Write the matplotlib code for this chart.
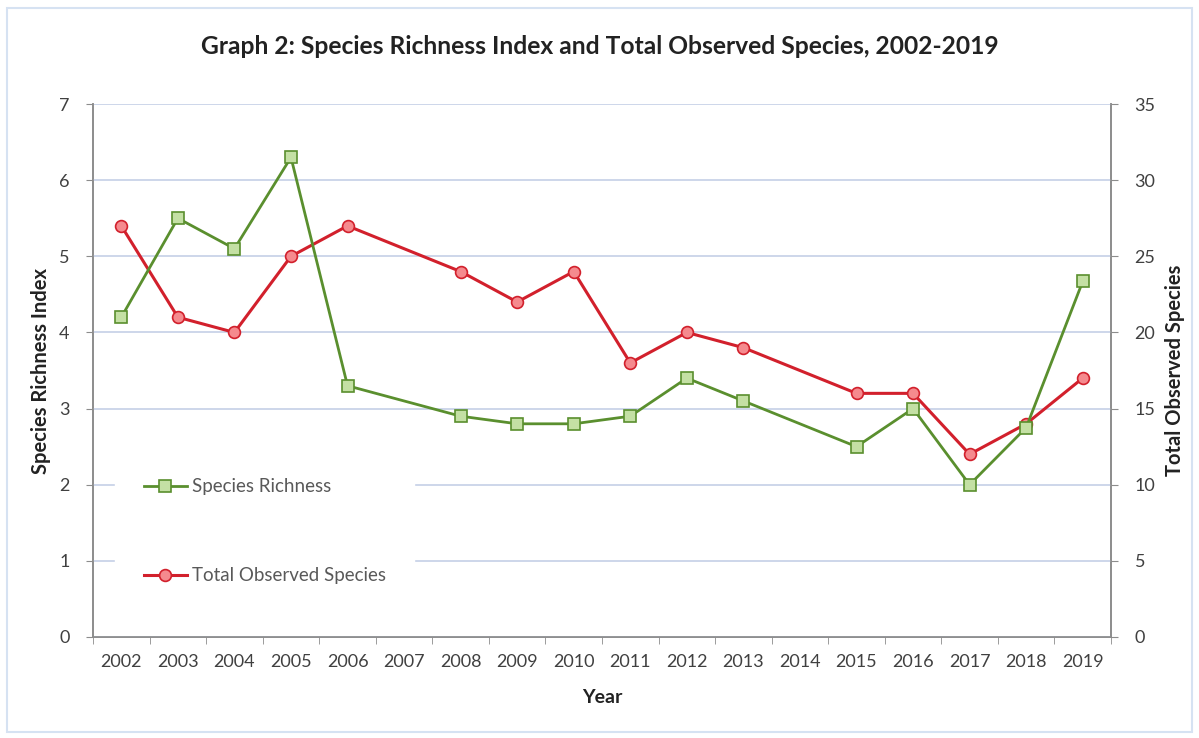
import numpy as np
import matplotlib
matplotlib.use("Agg")
import matplotlib.pyplot as plt
from matplotlib.patches import Rectangle

plt.rcParams['font.family'] = ['Lato', 'DejaVu Sans']

# data (None = no survey that year)
years = ['2002', '2003', '2004', '2005', '2006', '2007', '2008', '2009', '2010',
         '2011', '2012', '2013', '2014', '2015', '2016', '2017', '2018', '2019']
richness = [4.2, 5.5, 5.1, 6.3, 3.3, None, 2.9, 2.8, 2.8,
            2.9, 3.4, 3.1, None, 2.5, 3.0, 2.0, 2.75, 4.67]
total_species = [27, 21, 20, 25, 27, None, 24, 22, 24,
                 18, 20, 19, None, 16, 16, 12, 14, 17]

green = '#5a8f2e'
green_face = '#c4e0a4'
red = '#d2202c'
red_face = '#f58a8e'
grid_col = '#cdd6ea'
spine_col = '#8c8c8c'
txt_col = '#404040'

fig = plt.figure(figsize=(11.99, 7.38), dpi=100)
ax = fig.add_axes([0.0776, 0.1369, 0.849, 0.7221])
ax2 = ax.twinx()

# light blue chart frame
fig.patches.append(Rectangle((0.006, 0.008), 0.988, 0.981, transform=fig.transFigure,
                             fill=False, edgecolor='#d6e2f2', linewidth=1.5))

x = np.arange(len(years))

# skip missing years so the line joins across the gap (like Excel)
xr = [i for i, v in zip(x, richness) if v is not None]
yr = [v for v in richness if v is not None]
xt = [i for i, v in zip(x, total_species) if v is not None]
yt = [v for v in total_species if v is not None]

ax.set_zorder(ax2.get_zorder() + 1)
ax.patch.set_visible(False)

# secondary axis: 0-35 maps onto 0-7, so red is drawn on ax scaled by 5
l1, = ax.plot(xr, yr, color=green, lw=2.0, marker='s', ms=8.5, mfc=green_face,
              mec=green, mew=1.2, label='Species Richness', zorder=4)
l2, = ax.plot(xt, np.array(yt) / 5.0, color=red, lw=2.2, marker='o', ms=8.5, mfc=red_face,
              mec=red, mew=1.2, label='Total Observed Species', zorder=3)

ax.set_xlim(-0.5, len(years) - 0.5)
ax.set_ylim(0, 7)
ax2.set_ylim(0, 35)
ax.set_yticks(np.arange(0, 8, 1))
ax2.set_yticks(np.arange(0, 36, 5))

ax.set_xticks(x)
ax.set_xticklabels(years)
ax.set_xticks(np.arange(-0.5, len(years), 1), minor=True)
ax.tick_params(axis='x', which='major', length=0, pad=12, labelsize=13, labelcolor=txt_col)
ax.tick_params(axis='x', which='minor', length=5, color=spine_col, direction='out')
ax.tick_params(axis='y', length=5, color=spine_col, labelsize=13, labelcolor=txt_col, pad=12)
ax2.tick_params(axis='y', length=5, color=spine_col, labelsize=13, labelcolor=txt_col, pad=12)

ax.yaxis.grid(True, color=grid_col, lw=1.4)
ax.set_axisbelow(True)

for a in (ax, ax2):
    a.spines['top'].set_visible(False)
    for s in ('left', 'right', 'bottom'):
        a.spines[s].set_color(spine_col)
        a.spines[s].set_linewidth(1.2)

ax.set_xlabel('Year', fontsize=14, fontweight='bold', color='#222222', labelpad=14)
ax.set_ylabel('Species Richness Index', fontsize=14.5, fontweight='bold', color='#222222', labelpad=6)
ax2.set_ylabel('Total Observed Species', fontsize=14.5, fontweight='bold', color='#222222', labelpad=7)

fig.text(0.5, 0.937, 'Graph 2: Species Richness Index and Total Observed Species, 2002-2019',
         ha='center', va='center', fontsize=17.7, fontweight='bold', color='#222222')

leg = ax.legend(handles=[l1, l2], loc='lower left', bbox_to_anchor=(0.022, 0.046),
                frameon=True, fancybox=False, framealpha=1.0, edgecolor='white',
                facecolor='white', fontsize=13.5, labelspacing=3.85, handlelength=2.3,
                borderpad=1.5, handletextpad=0.3, borderaxespad=0)
for t in leg.get_texts():
    t.set_color('#595959')

fig.savefig('out.png', dpi=100, facecolor='white')
